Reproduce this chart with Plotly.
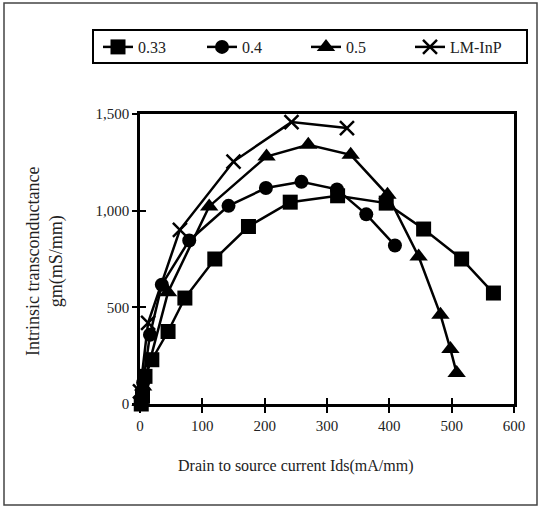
import plotly.graph_objects as go

# Data
sq_x = [2, 4, 8, 19, 45, 72, 120, 174, 241, 317, 395, 455, 516, 567]
sq_y = [0, 40, 143, 229, 375, 548, 750, 918, 1044, 1077, 1039, 905, 750, 574]

circ_x = [2, 5, 16, 35, 79, 142, 202, 259, 316, 363, 409]
circ_y = [20, 110, 358, 617, 846, 1025, 1117, 1149, 1110, 981, 820]

tri_x = [1, 5, 45, 111, 203, 270, 338, 397, 447, 482, 498, 508]
tri_y = [10, 90, 578, 1022, 1280, 1341, 1289, 1082, 763, 462, 284, 160]

lm_x = [0, 13, 64, 150, 243, 332]
lm_y = [65, 420, 901, 1254, 1458, 1427]

names = ["0.33", "0.4", "0.5", "LM-InP"]
x_ticks = [0, 100, 200, 300, 400, 500, 600]
y_ticks = [0, 500, 1000, 1500]

FONT = "Liberation Serif"

fig = go.Figure()
series = [
    (sq_x, sq_y, names[0], dict(symbol="square", size=15, color="black")),
    (circ_x, circ_y, names[1], dict(symbol="circle", size=14, color="black")),
    (tri_x, tri_y, names[2], dict(symbol="triangle-up", size=16, color="black")),
    (lm_x, lm_y, names[3], dict(symbol="x-thin", size=14, color="black",
                                 line=dict(color="black", width=2.5))),
]
for xs, ys, nm, mk in series:
    fig.add_trace(go.Scatter(x=xs, y=ys, name=nm, mode="lines+markers",
                             line=dict(color="black", width=2.5),
                             marker=mk, cliponaxis=False))

# Overlay axes to produce crossing tick marks
fig.add_trace(go.Scatter(x=[None], y=[None], xaxis="x2", yaxis="y2",
                         showlegend=False, hoverinfo="skip"))

L, R, T, B = 140, 27, 114, 104
W, H = 541, 508
pw, ph = W - L - R, H - T - B

def px(x):
    return (x - L) / pw

def py(y):
    return (H - B - y) / ph

axis_common = dict(showgrid=False, zeroline=False, linecolor="black",
                   tickcolor="black", tickwidth=2)
tfont = dict(family=FONT, size=15, color="#222")

fig.update_layout(
    width=W, height=H,
    margin=dict(l=L, r=R, t=T, b=B),
    paper_bgcolor="white", plot_bgcolor="white",
    font=dict(family=FONT, size=15, color="#222"),
    xaxis=dict(range=[0, 600], tickvals=x_ticks, showline=True, linewidth=2.5,
               mirror=True, ticks="outside", ticklen=6, tickfont=tfont,
               **axis_common),
    yaxis=dict(range=[0, 1500], tickvals=y_ticks, tickformat=",", showline=True,
               linewidth=2.5, mirror=True, ticks="outside", ticklen=5,
               tickfont=tfont, **axis_common),
    xaxis2=dict(range=[0, 600], tickvals=x_ticks, overlaying="x", matches="x",
                showticklabels=False, ticks="inside", ticklen=6, showline=False,
                **axis_common),
    yaxis2=dict(range=[0, 1500], tickvals=y_ticks, overlaying="y", matches="y",
                showticklabels=False, ticks="inside", ticklen=6, showline=False,
                **axis_common),
    legend=dict(orientation="h", x=px(98), y=py(30), xanchor="left", yanchor="top",
                borderwidth=0, bgcolor="rgba(0,0,0,0)",
                font=dict(family=FONT, size=16, color="#222"),
                entrywidth=59, tracegroupgap=0),
    showlegend=True,
)

# legend frame
fig.add_shape(type="rect", xref="paper", yref="paper",
              x0=px(93), x1=px(527), y0=py(63), y1=py(30),
              line=dict(color="black", width=2))

fig.add_annotation(text="Intrinsic transconductance<br>gm(mS/mm)", textangle=-90,
                   x=px(45), y=py(262), xref="paper", yref="paper",
                   xanchor="center", yanchor="middle",
                   showarrow=False, font=dict(family=FONT, size=18, color="#222"))
fig.add_annotation(text="Drain to source current Ids(mA/mm)",
                   x=px(295), y=py(466), xref="paper", yref="paper",
                   xanchor="center", yanchor="middle",
                   showarrow=False, font=dict(family=FONT, size=16, color="#222"))

# outer frame
fig.add_shape(type="rect", xref="paper", yref="paper",
              x0=px(4), x1=px(537), y0=py(505), y1=py(3),
              line=dict(color="#444", width=1.5))

fig.write_html("out.html")
